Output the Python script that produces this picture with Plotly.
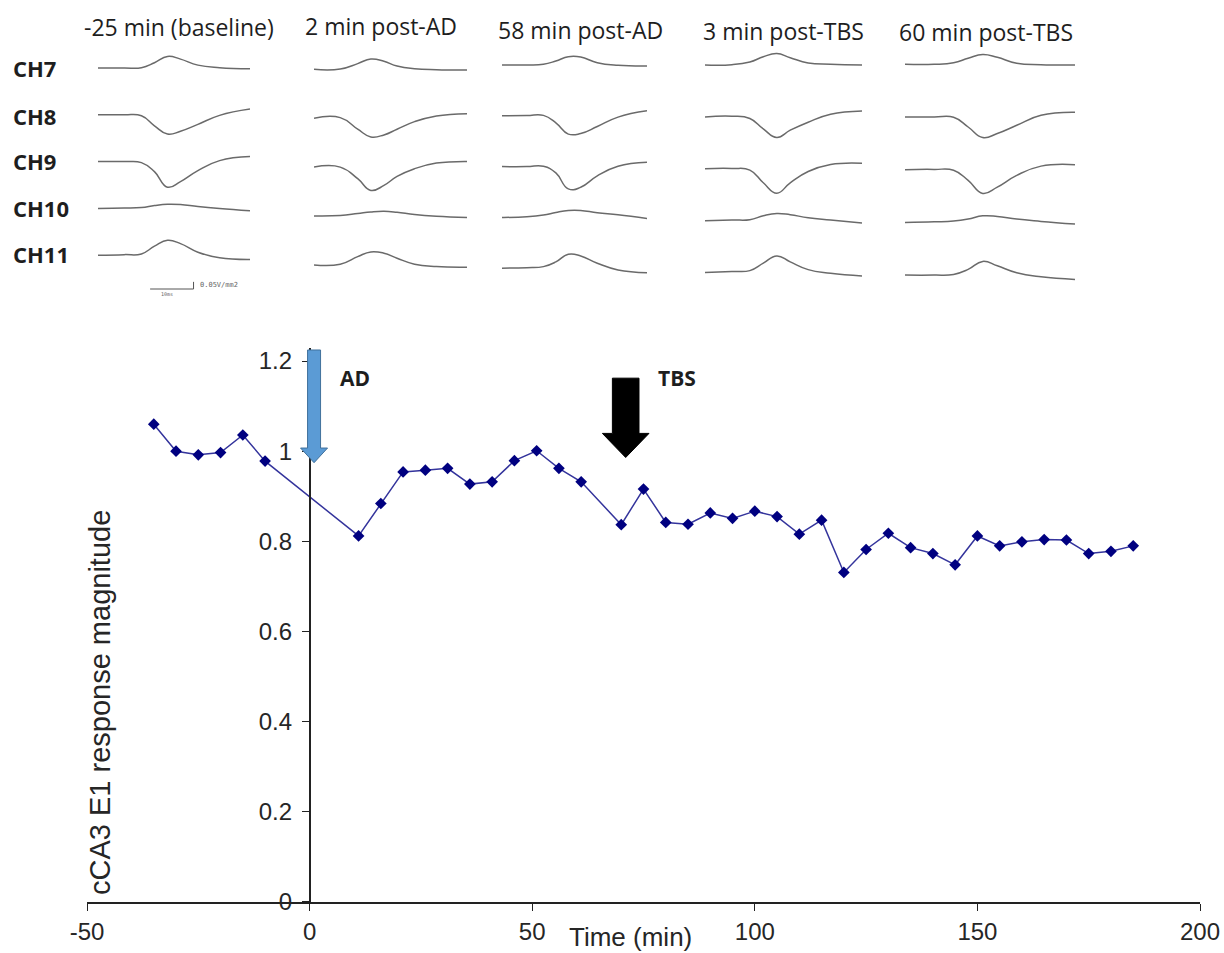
import plotly.graph_objects as go

# ---------------- time course (normalised cCA3 E1 response) ----------------
time_min = [-35, -30, -25, -20, -15, -10,
            11, 16, 21, 26, 31, 36, 41, 46, 51, 56, 61,
            70, 75, 80, 85, 90, 95, 100, 105, 110, 115, 120, 125, 130, 135,
            140, 145, 150, 155, 160, 165, 170, 175, 180, 185]
magnitude = [1.060, 1.000, 0.992, 0.997, 1.036, 0.978,
             0.812, 0.884, 0.954, 0.958, 0.962, 0.927, 0.932, 0.979, 1.001, 0.962, 0.932,
             0.837, 0.916, 0.842, 0.838, 0.863, 0.851, 0.867, 0.855, 0.816, 0.847, 0.731,
             0.782, 0.818, 0.786, 0.773, 0.748, 0.812, 0.790, 0.799, 0.804, 0.803, 0.773,
             0.778, 0.790]

x_ticks = [-50, 0, 50, 100, 150, 200]
x_tick_text = ["-50", "0", "50", "100", "150", "200"]
y_ticks = [0, 0.2, 0.4, 0.6, 0.8, 1.0, 1.2]
y_tick_text = ["0", "0.2", "0.4", "0.6", "0.8", "1", "1.2"]

AD_TIME = 1      # afterdischarge stimulation
TBS_TIME = 71    # theta-burst stimulation

# ---------------- field-potential traces (mV/mm2, relative to pre-stimulus level) ----------------
trace_t_ms = [0, 6, 10, 13, 16, 19, 23, 28, 35]
channels = ["CH7", "CH8", "CH9", "CH10", "CH11"]
conditions = ["-25 min (baseline)", "2 min post-AD", "58 min post-AD",
              "3 min post-TBS", "60 min post-TBS"]

fp_baseline = [[0, 0, 2, 37, 81, 62, 20, 2, -5],
               [0, 0, -7, -77, -135, -115, -67, -4, 40],
               [0, 0, -7, -70, -179, -140, -63, 7, 35],
               [0, 2, 6, 20, 29, 27, 13, -1, -17],
               [0, 4, 9, 63, 104, 81, 21, -18, -30]]
fp_2min_ad = [[0, 2, 40, 72, 56, 23, 4, -3, -5],
              [0, 4, -77, -131, -117, -77, -24, 16, 32],
              [0, 0, -81, -163, -128, -65, -11, 28, 40],
              [0, 3, 17, 28, 33, 26, 10, -2, -11],
              [0, 5, 58, 91, 82, 47, 5, -12, -16]]
fp_58min_ad = [[0, 0, 5, 28, 58, 56, 16, -2, -7],
               [0, 2, 3, -49, -128, -124, -75, -9, 35],
               [0, 0, 2, -44, -156, -145, -65, 2, 30],
               [0, 4, 16, 35, 49, 49, 32, 18, -7],
               [0, 4, 11, 44, 98, 86, 35, -12, -31]]
fp_3min_tbs = [[0, 2, 21, 58, 80, 51, 14, 5, 0],
               [0, 5, -11, -84, -144, -93, -37, 19, 42],
               [0, 2, -9, -98, -171, -98, -19, 30, 39],
               [0, 5, 7, 35, 51, 42, 21, 5, -16],
               [0, 8, 14, 66, 117, 75, 21, -4, -23]]
fp_60min_tbs = [[0, 0, 11, 42, 69, 49, 7, -3, -5],
                [0, 0, -2, -70, -144, -116, -58, 12, 33],
                [0, 2, -4, -75, -166, -122, -40, 25, 35],
                [0, 4, 9, 23, 46, 42, 23, 7, -12],
                [0, 0, 5, 40, 96, 65, 16, -12, -30]]
field_potentials = [fp_baseline, fp_2min_ad, fp_58min_ad, fp_3min_tbs, fp_60min_tbs]

scale_t_ms = 10
scale_amp = 50    # 0.05 V/mm2

# ---------------- page geometry (pixels) ----------------
W, H = 1224, 953
PLOT_LEFT, PLOT_RIGHT = 87, 1200
Y0_PX, PX_PER_UNIT = 902, 450.8
Y_TOP = 1.23

col_left_px = [98, 314, 502, 705, 905]
col_right_px = [250, 467, 647, 862, 1075]
row_top_px = [68, 69.3, 65, 65, 64.3]
row_pitch_px = [46.8, 48.9, 50.8, 51.9, 52.7]
TRACE_PANEL_PX = 300
MV_PER_PX = 7.0

title_center_px = [(179, 27), (381, 26), (580, 30), (784, 31), (986, 32)]
channel_label_y_px = [68, 116, 161, 208, 254]


def px_x(p):
    return p / W


def px_y(p):
    return 1 - p / H


fig = go.Figure()

# main time course
fig.add_trace(go.Scatter(
    x=time_min, y=magnitude, mode="lines+markers",
    line=dict(color="#34349c", width=1.5),
    marker=dict(symbol="diamond", size=9, color="#000080"),
    showlegend=False, hoverinfo="x+y",
))

# stacked field potentials, one hidden x-axis per condition
for c, fp in enumerate(field_potentials):
    xa = "x%d" % (c + 2)
    for r, vals in enumerate(fp):
        base = -(row_top_px[c] + r * row_pitch_px[c]) * MV_PER_PX
        fig.add_trace(go.Scatter(
            x=trace_t_ms, y=[base + v for v in vals], xaxis=xa, yaxis="y2",
            mode="lines", line=dict(color="#6a6a6a", width=1.5, shape="spline", smoothing=1.3),
            showlegend=False, hoverinfo="skip",
        ))

# calibration bar under the baseline column
bar_y = -289 * MV_PER_PX
bar_t0 = 12
fig.add_trace(go.Scatter(
    x=[bar_t0, bar_t0 + scale_t_ms, bar_t0 + scale_t_ms],
    y=[bar_y, bar_y, bar_y + scale_amp],
    xaxis="x2", yaxis="y2", mode="lines",
    line=dict(color="#555555", width=1), showlegend=False, hoverinfo="skip",
))

x_dom = [px_x(PLOT_LEFT), px_x(PLOT_RIGHT)]
y_dom = [px_y(Y0_PX), px_y(Y0_PX - Y_TOP * PX_PER_UNIT)]
yaxis_pos = x_dom[0] + (0 - x_ticks[0]) / (x_ticks[-1] - x_ticks[0]) * (x_dom[1] - x_dom[0])

axis_font = dict(family="Liberation Sans, Arial, sans-serif", size=24, color="#262626")

layout = dict(
    width=W, height=H,
    margin=dict(l=0, r=0, t=0, b=0, autoexpand=False),
    paper_bgcolor="white", plot_bgcolor="rgba(0,0,0,0)",
    showlegend=False,
    xaxis=dict(domain=x_dom, range=[x_ticks[0], x_ticks[-1]], anchor="y", automargin=False,
               tickvals=x_ticks, ticktext=x_tick_text, ticks="outside", ticklen=7,
               tickcolor="#222", showline=True, linecolor="#222", linewidth=1.5,
               showgrid=False, zeroline=False, tickfont=axis_font),
    yaxis=dict(domain=y_dom, range=[0, Y_TOP], anchor="free", position=yaxis_pos,
               automargin=False, ticklabelstandoff=5,
               tickvals=y_ticks, ticktext=y_tick_text, ticks="outside", ticklen=7,
               tickcolor="#222", showline=True, linecolor="#222", linewidth=1.5,
               showgrid=False, zeroline=False, tickfont=axis_font),
    yaxis2=dict(domain=[px_y(TRACE_PANEL_PX), 1], range=[-TRACE_PANEL_PX * MV_PER_PX, 0],
                anchor="x2", visible=False, fixedrange=True),
)
for c in range(5):
    layout["xaxis%d" % (c + 2)] = dict(
        domain=[px_x(col_left_px[c]), px_x(col_right_px[c])],
        range=[trace_t_ms[0], trace_t_ms[-1]], anchor="y2", visible=False, fixedrange=True)
fig.update_layout(**layout)

ann = []
# condition headings
for (cx, cy), txt in zip(title_center_px, conditions):
    ann.append(dict(x=px_x(cx), y=px_y(cy), xref="paper", yref="paper", text=txt,
                    showarrow=False, xanchor="center", yanchor="middle",
                    font=dict(family="Open Sans, sans-serif", size=23, color="#1e1e1e")))
# channel names
for cy, name in zip(channel_label_y_px, channels):
    ann.append(dict(x=px_x(11), y=px_y(cy), xref="paper", yref="paper", text="<b>%s</b>" % name,
                    showarrow=False, xanchor="left", yanchor="middle",
                    font=dict(family="Open Sans, sans-serif", size=22, color="#1e1e1e")))
# calibration labels
ann.append(dict(x=bar_t0 + scale_t_ms + 1, y=bar_y + scale_amp / 2, xref="x2", yref="y2",
                text="0.05V/mm2", showarrow=False, xanchor="left", yanchor="middle",
                font=dict(family="DejaVu Sans Mono, monospace", size=7, color="#666")))
ann.append(dict(x=bar_t0 + scale_t_ms / 2 - 1, y=bar_y, xref="x2", yref="y2",
                text="10ms", showarrow=False, xanchor="center", yanchor="top",
                font=dict(family="DejaVu Sans Mono, monospace", size=5, color="#666")))
# stimulation labels
ann.append(dict(x=AD_TIME, y=1.163, xref="x", yref="y", text="<b>AD</b>", showarrow=False,
                xanchor="left", xshift=24, yanchor="middle",
                font=dict(family="Open Sans, sans-serif", size=21, color="#1e1e1e")))
ann.append(dict(x=TBS_TIME, y=1.163, xref="x", yref="y", text="<b>TBS</b>", showarrow=False,
                xanchor="left", xshift=30, yanchor="middle",
                font=dict(family="Open Sans, sans-serif", size=21, color="#1e1e1e")))
# axis titles
ann.append(dict(x=px_x(631), y=px_y(937), xref="paper", yref="paper", text="Time (min)",
                showarrow=False, xanchor="center", yanchor="middle",
                font=dict(family="Liberation Sans, Arial, sans-serif", size=26, color="#262626")))
ann.append(dict(x=px_x(100), y=px_y(703), xref="paper", yref="paper",
                text="cCA3 E1 response magnitude", textangle=-90,
                showarrow=False, xanchor="center", yanchor="middle",
                font=dict(family="Liberation Sans, Arial, sans-serif", size=29, color="#262626")))
fig.update_layout(annotations=ann)


def block_arrow(x_at, top, head_base, tip, shaft_half, head_half, fill, outline):
    path = ("M {a} {t} L {b} {t} L {b} {h} L {c} {h} L 0 {p} L {d} {h} L {a} {h} Z"
            .format(a=-shaft_half, b=shaft_half, c=head_half, d=-head_half,
                    t=top, h=head_base, p=tip))
    return dict(type="path", xref="x", yref="y", xsizemode="pixel", xanchor=x_at,
                path=path, fillcolor=fill, line=dict(color=outline, width=1), layer="above")


fig.update_layout(shapes=[
    block_arrow(AD_TIME, 1.2245, 1.007, 0.9745, 6.5, 13.5, "#5B9BD5", "#41719C"),
    block_arrow(TBS_TIME, 1.162, 1.0395, 0.986, 13.3, 23.3, "#000000", "#000000"),
])

fig.write_html("out.html")
